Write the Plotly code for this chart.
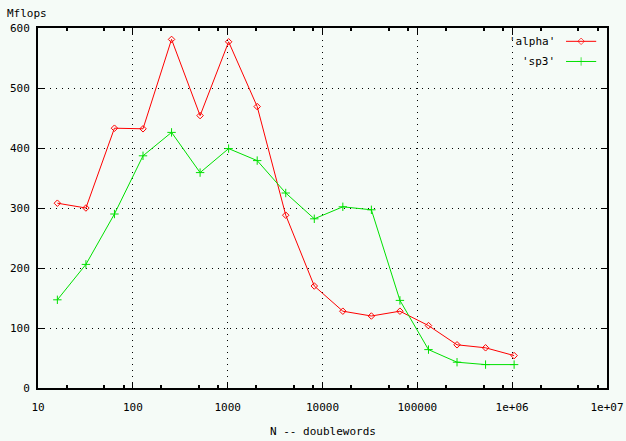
import plotly.graph_objects as go

# data
n_doublewords = [16, 32, 64, 128, 256, 512, 1024, 2048, 4096, 8192, 16384,
                 32768, 65536, 131072, 262144, 524288, 1048576]
alpha_mflops = [308, 300, 433, 432, 581, 454, 577, 469, 288, 170, 128,
                120, 128, 104, 72, 67, 54]
sp3_mflops = [147, 206, 290, 387, 426, 359, 399, 379, 325, 282, 302,
              297, 146, 64, 43, 39, 39]
x_tick_vals = [10, 100, 1000, 10000, 100000, 1000000, 10000000]
x_tick_text = ["10", "100", "1000", "10000", "100000", "1e+06", "1e+07"]
y_tick_vals = [0, 100, 200, 300, 400, 500, 600]
minor_vals = [m * d for d in [10, 100, 1000, 10000, 100000, 1000000] for m in (2, 5, 8)]
series_names = ["'alpha'", "'sp3'"]

RED = "#ff0000"
GREEN = "#00e000"
BG = "#f5fbf7"
FONT = dict(family="DejaVu Sans Mono", size=11, color="black")

fig = go.Figure()
fig.add_trace(go.Scatter(x=n_doublewords, y=alpha_mflops, mode="lines+markers",
                         line=dict(color=RED, width=1),
                         marker=dict(symbol="diamond-open", size=5, color=RED, line=dict(width=1, color=RED)),
                         showlegend=False))
fig.add_trace(go.Scatter(x=n_doublewords, y=sp3_mflops, mode="lines+markers",
                         line=dict(color=GREEN, width=1),
                         marker=dict(symbol="cross-thin", size=6, color=GREEN, line=dict(width=1, color=GREEN)),
                         showlegend=False))

# legend samples on an overlay axis
leg_y = [0.963, 0.907]
fig.add_trace(go.Scatter(x=[0.928, 0.9545, 0.981], y=[leg_y[0]] * 3, xaxis="x2", yaxis="y2",
                         mode="lines+markers", line=dict(color=RED, width=1),
                         marker=dict(symbol="diamond-open", size=[0, 5, 0], color=RED, line=dict(width=1, color=RED)),
                         showlegend=False, hoverinfo="skip"))
fig.add_trace(go.Scatter(x=[0.928, 0.9545, 0.981], y=[leg_y[1]] * 3, xaxis="x2", yaxis="y2",
                         mode="lines+markers", line=dict(color=GREEN, width=1),
                         marker=dict(symbol="cross-thin", size=[0, 6, 0], color=GREEN, line=dict(width=1, color=GREEN)),
                         showlegend=False, hoverinfo="skip"))
for name, yy in zip(series_names, leg_y):
    fig.add_annotation(x=0.912, y=yy, xref="x2", yref="y2", text=name, showarrow=False,
                       xanchor="right", yanchor="middle", font=FONT)

fig.add_annotation(x=-33 / 569, y=1 + 14 / 360, xref="paper", yref="paper", text="Mflops",
                   showarrow=False, xanchor="left", yanchor="middle", font=FONT)
fig.add_annotation(x=0.5, y=-43 / 360, xref="paper", yref="paper", text="N -- doublewords",
                   showarrow=False, xanchor="center", yanchor="middle", font=FONT)

fig.update_layout(
    width=626, height=441,
    margin=dict(l=38, r=19, t=28, b=53),
    paper_bgcolor=BG, plot_bgcolor=BG,
    font=FONT,
    xaxis=dict(type="log", range=[1, 7], tickvals=x_tick_vals, ticktext=x_tick_text,
               showline=True, linecolor="black", linewidth=2, mirror="allticks",
               ticks="inside", ticklen=6, tickcolor="black", tickwidth=1,
               showgrid=True, gridcolor="black", gridwidth=1, griddash="1px,5px",
               zeroline=False, ticklabelstandoff=8, automargin=False,
               minor=dict(tickvals=minor_vals, ticks="inside", ticklen=3, tickcolor="black",
                          tickwidth=2, showgrid=False)),
    yaxis=dict(range=[0, 600], tickvals=y_tick_vals,
               showline=True, linecolor="black", linewidth=2, mirror="allticks",
               ticks="inside", ticklen=6, tickcolor="black", tickwidth=1,
               showgrid=True, gridcolor="black", gridwidth=1, griddash="1px,5px",
               zeroline=False, ticklabelstandoff=4, automargin=False),
    xaxis2=dict(overlaying="x", range=[0, 1], visible=False),
    yaxis2=dict(overlaying="y", range=[0, 1], visible=False),
)

fig.write_html("out.html", config={"displayModeBar": False},
               post_script="document.body.style.margin='0';")
